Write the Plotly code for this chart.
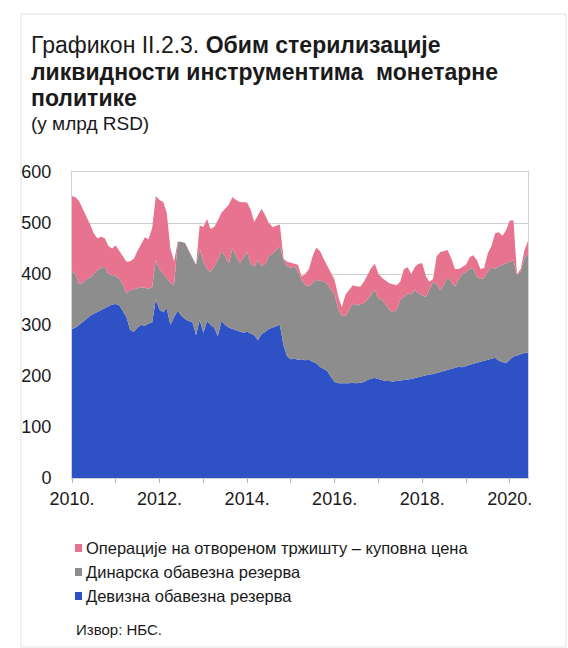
import plotly.graph_objects as go
import pandas as pd

# ---------------- data (млрд RSD, monthly, Jan 2010 – Jun 2020) ----------------
start_month = "2010-01-01"
n_months = 126

fx_reserve = [292, 295, 300, 307, 312, 318, 322, 326, 330, 333, 337, 340, 341, 338, 328, 315,
              290, 287, 295, 300, 298, 303, 305, 350, 330, 325, 333, 300, 315, 328, 318, 312,
              308, 306, 280, 310, 285, 308, 300, 295, 278, 308, 300, 295, 292, 290, 288, 285,
              287, 283, 280, 270, 282, 287, 292, 295, 297, 300, 260, 238, 233, 234, 232, 233,
              231, 232, 228, 225, 218, 214, 210, 198, 188, 186, 186, 185, 186, 187, 186, 187,
              188, 192, 195, 196, 194, 191, 190, 190, 189, 190, 191, 192, 192, 194, 196, 198,
              200, 202, 203, 204, 206, 208, 210, 212, 214, 216, 218, 217, 220, 222, 224, 226,
              228, 230, 231, 233, 236, 230, 228, 225, 232, 238, 240, 243, 245, 246]

dinar_reserve = [113, 105, 80, 76, 78, 74, 78, 82, 82, 81, 63, 58, 55, 52, 52, 47,
                 78, 83, 77, 74, 75, 68, 70, 77, 80, 75, 59, 83, 63, 135, 145, 149,
                 137, 127, 138, 140, 140, 102, 104, 120, 149, 137, 135, 126, 159, 145, 133, 147,
                 156, 137, 135, 157, 133, 133, 143, 145, 151, 153, 168, 177, 179, 181, 173, 155,
                 147, 144, 155, 163, 169, 172, 170, 172, 172, 144, 132, 133, 144, 155, 152, 153,
                 155, 158, 165, 173, 158, 158, 150, 140, 136, 140, 158, 164, 170, 166, 173, 164,
                 158, 153, 167, 181, 174, 160, 170, 182, 171, 159, 172, 183, 184, 188, 188, 169,
                 162, 162, 174, 181, 174, 185, 190, 196, 193, 189, 158, 162, 185, 194]

open_market = [148, 150, 163, 145, 122, 105, 80, 62, 61, 56, 55, 52, 60, 55, 57, 62,
               57, 60, 73, 86, 99, 97, 115, 126, 135, 141, 128, 67, 47, 0, 0, 0,
               0, 0, 0, 45, 67, 98, 84, 77, 78, 75, 93, 115, 100, 110, 120, 108,
               97, 105, 87, 88, 113, 95, 65, 52, 46, 44, 2, 9, 10, 5, 13, 7,
               22, 34, 52, 64, 58, 44, 35, 30, 28, 25, 17, 42, 40, 36, 38, 35,
               42, 47, 52, 51, 48, 43, 48, 52, 55, 48, 36, 54, 51, 40, 45, 58,
               63, 40, 15, 5, 55, 75, 65, 53, 45, 35, 20, 14, 14, 23, 25, 33,
               20, 20, 35, 41, 70, 67, 57, 65, 80, 78, 2, 5, 15, 25]

series_names = ["Девизна обавезна резерва",
                "Динарска обавезна резерва",
                "Операције на отвореном тржишту – куповна цена"]
series_colors = ["#2F51C6", "#8D8D8D", "#E8738F"]

tick_years = list(range(2010, 2021))
tick_labels = [f"{y}." if y % 2 == 0 else "" for y in tick_years]

dates = pd.date_range(start_month, periods=n_months, freq="MS")

# ---------------- geometry helpers ----------------
W, H = 568, 648
L, R, T, B = 72, 40, 172, 170
pw, ph = W - L - R, H - T - B


def px(x):
    return (x - L) / pw


def py(y):
    return (H - B - y) / ph


fig = go.Figure()
for vals, name, col in zip([fx_reserve, dinar_reserve, open_market], series_names, series_colors):
    fig.add_trace(go.Scatter(
        x=dates, y=vals, name=name, mode="lines", stackgroup="one",
        line=dict(width=0, color=col), fillcolor=col, showlegend=False,
        hoverinfo="x+y+name"))

font_main = "Liberation Sans, Arial, sans-serif"

annotations = [
    dict(text="Графикон II.2.3. <b>Обим стерилизације</b>", x=px(29), y=py(45), size=23),
    dict(text="<b>ликвидности инструментима  монетарне</b>", x=px(29), y=py(72), size=23),
    dict(text="<b>политике</b>", x=px(29), y=py(98), size=23),
    dict(text="(у млрд RSD)", x=px(29), y=py(124), size=19),
    dict(text="Извор: НБС.", x=px(74), y=py(629), size=15),
]
# custom legend (top to bottom: pink, gray, blue)
legend_rows = [548, 572, 596]
shapes = []
for row_y, idx in zip(legend_rows, [2, 1, 0]):
    annotations.append(dict(text=series_names[idx], x=px(84), y=py(row_y), size=16.5))
    shapes.append(dict(type="rect", xref="paper", yref="paper",
                       x0=px(75), x1=px(82), y0=py(row_y + 4), y1=py(row_y - 4),
                       fillcolor=series_colors[idx], line=dict(width=0)))

fig.update_layout(
    annotations=[dict(text=a["text"], x=a["x"], y=a["y"], xref="paper", yref="paper",
                      xanchor="left", yanchor="middle", showarrow=False,
                      font=dict(family=font_main, size=a["size"], color="#1a1a1a"))
                 for a in annotations],
    shapes=shapes + [
        dict(type="rect", xref="paper", yref="paper", x0=px(21), x1=px(566), y0=py(14), y1=py(647),
             line=dict(color="#e2e2e2", width=1), fillcolor="rgba(0,0,0,0)", layer="below"),
    ],
)

fig.update_xaxes(
    type="date", range=[dates[0], dates[-1]],
    tickvals=[pd.Timestamp(f"{y}-01-01") for y in tick_years], ticktext=tick_labels,
    ticks="outside", ticklen=4, tickcolor="#b5b5b5", showgrid=False,
    showline=True, linecolor="#d0d0d0", mirror=True,
    tickfont=dict(family=font_main, size=18, color="#1a1a1a"),
)
fig.update_yaxes(
    range=[0, 600], dtick=100, showgrid=True, gridcolor="#cfcfcf", gridwidth=1,
    zeroline=False, ticks="", showline=True, linecolor="#d0d0d0", mirror=True,
    tickfont=dict(family=font_main, size=18, color="#1a1a1a"), ticklabelstandoff=16,
)

fig.update_layout(
    width=W, height=H, margin=dict(l=L, r=R, t=T, b=B, pad=0),
    paper_bgcolor="white", plot_bgcolor="white", showlegend=False,
)

fig.write_html("out.html", config={"displayModeBar": False},
               post_script="document.body.style.margin='0';document.body.style.overflow='hidden';")
